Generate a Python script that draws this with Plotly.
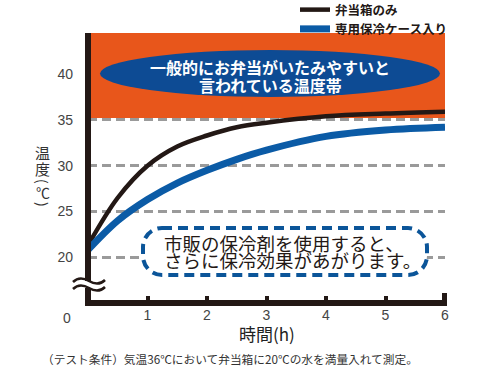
import plotly.graph_objects as go

# ---- data ----
hours = [0, 0.5, 1, 1.5, 2, 2.5, 3, 4, 5, 6]
bento_only = [21.3, 26.5, 30.0, 32.1, 33.3, 34.2, 34.7, 35.4, 35.7, 35.9]
with_case = [20.8, 24.0, 26.3, 28.1, 29.5, 30.7, 31.7, 33.2, 33.9, 34.2]
series_names = ["弁当箱のみ", "専用保冷ケース入り"]
y_ticks = [20, 25, 30, 35, 40]
x_ticks = [1, 2, 3, 4, 5, 6]
danger_low = 35.2
y_range = [15, 44.5]
x_range = [0, 6]

W, H = 490, 368
L, R, T, B = 88, 45, 33, 65
PW, PH = W - L - R, H - T - B
BOT = H - B

def px_x(px):
    return (px - L) / PW

def px_y(py):
    return (BOT - py) / PH

JP = "Noto Sans CJK JP"
NUM = "Liberation Sans, Arial"
BLACK = "#231815"
BLUE = "#0B5BA6"
NAVY = "#0D4B94"
ORANGE = "#E8561B"

fig = go.Figure()
fig.add_trace(go.Scatter(x=hours, y=bento_only, mode="lines", name=series_names[0],
                         line=dict(color=BLACK, width=4.5, shape="spline", smoothing=1)))
fig.add_trace(go.Scatter(x=hours, y=with_case, mode="lines", name=series_names[1],
                         line=dict(color=BLUE, width=7, shape="spline", smoothing=1)))

shapes = []
# danger band
shapes.append(dict(type="rect", xref="x", yref="y", x0=x_range[0], x1=x_range[1],
                   y0=danger_low, y1=y_range[1], fillcolor=ORANGE, line=dict(width=0),
                   layer="between"))
# ellipse
shapes.append(dict(type="circle", xref="paper", yref="paper",
                   x0=px_x(100), x1=px_x(440), y0=px_y(97), y1=px_y(50),
                   fillcolor=NAVY, line=dict(width=0), layer="above"))

def P(x, y):
    return f"{px_x(x):.5f},{px_y(y):.5f}"

# rounded dashed box
def rrect(x0, y0, x1, y1, r):
    k = 0.55 * r
    d = f"M {P(x0 + r, y0)} L {P(x1 - r, y0)} "
    d += f"C {P(x1 - r + k, y0)} {P(x1, y0 + r - k)} {P(x1, y0 + r)} "
    d += f"L {P(x1, y1 - r)} "
    d += f"C {P(x1, y1 - r + k)} {P(x1 - r + k, y1)} {P(x1 - r, y1)} "
    d += f"L {P(x0 + r, y1)} "
    d += f"C {P(x0 + r - k, y1)} {P(x0, y1 - r + k)} {P(x0, y1 - r)} "
    d += f"L {P(x0, y0 + r)} "
    d += f"C {P(x0, y0 + r - k)} {P(x0 + r - k, y0)} {P(x0 + r, y0)} Z"
    return d

shapes.append(dict(type="path", xref="paper", yref="paper", path=rrect(143, 228, 427, 275, 19),
                   fillcolor="white", line=dict(color="#0B5599", width=4, dash="10px,6px"),
                   layer="above"))

# axis lines
shapes.append(dict(type="line", xref="paper", yref="paper", x0=px_x(88), x1=px_x(88),
                   y0=px_y(33), y1=px_y(306), line=dict(color=BLACK, width=6), layer="above"))
shapes.append(dict(type="line", xref="paper", yref="paper", x0=px_x(85), x1=px_x(447),
                   y0=px_y(303), y1=px_y(303), line=dict(color=BLACK, width=6), layer="above"))
# end cap at x = 6
shapes.append(dict(type="rect", xref="paper", yref="paper", x0=px_x(442), x1=px_x(447),
                   y0=px_y(303), y1=px_y(293), fillcolor=BLACK, line=dict(width=0), layer="above"))

# axis break mark
def wave(y):
    return (f"M {P(73, y + 1)} C {P(78, y - 4)} {P(84, y - 3)} {P(89, y)} "
            f"C {P(94, y + 3)} {P(100, y + 4)} {P(105, y - 1)}")

fill_path = f"M {P(80, 281)} L {P(97, 281)} L {P(97, 288)} L {P(80, 288)} Z"
shapes.append(dict(type="path", xref="paper", yref="paper", path=fill_path,
                   fillcolor="white", line=dict(width=0), layer="above"))
shapes.append(dict(type="path", xref="paper", yref="paper", path=wave(281),
                   line=dict(color=BLACK, width=2.5), layer="above"))
shapes.append(dict(type="path", xref="paper", yref="paper", path=wave(288),
                   line=dict(color=BLACK, width=2.5), layer="above"))

ann = []
def A(text, x, y, size, color="#333", family=JP, xanchor="center", angle=0):
    ann.append(dict(text=text, xref="paper", yref="paper", x=px_x(x), y=px_y(y),
                    xanchor=xanchor, yanchor="middle", showarrow=False, textangle=angle,
                    font=dict(family=family, size=size, color=color)))

A("<b>一般的にお弁当がいたみやすいと</b>", 270, 67, 16, "white")
A("<b>言われている温度帯</b>", 270, 85, 16, "white")
A("市販の保冷剤を使用すると、", 162, 243, 18.5, BLACK, xanchor="left")
A("さらに保冷効果があがります。", 162, 260, 18.5, BLACK, xanchor="left")
A("温", 42, 152, 15, "#333")
A("度", 42, 168, 15, "#333")
A("(", 43, 181, 14, "#333", angle=90)
A("℃", 43, 192, 14, "#333")
A(")", 43, 204, 14, "#333", angle=90)
A("時間(h)", 267, 333, 17, "#222")
A("0", 67, 318, 14, "#444", family=NUM)
A("（テスト条件）気温36℃において弁当箱に20℃の水を満量入れて測定。", 230, 358, 11.7, "#333")

fig.update_layout(
    width=W, height=H,
    margin=dict(l=L, r=R, t=T, b=B, autoexpand=False),
    paper_bgcolor="white", plot_bgcolor="white",
    shapes=shapes, annotations=ann,
    showlegend=True,
    legend=dict(x=px_x(295), y=px_y(-5), xanchor="left", yanchor="top",
                font=dict(family=JP, size=12.5, color=BLACK, weight="bold"),
                bgcolor="rgba(0,0,0,0)", borderwidth=0, tracegroupgap=0,
                itemwidth=30),
    xaxis=dict(range=x_range, tickvals=x_ticks, ticktext=[str(v) for v in x_ticks],
               showgrid=False, zeroline=False, showline=False,
               ticks="inside", ticklen=7, tickwidth=4, tickcolor=BLACK,
               tickfont=dict(family=NUM, size=14, color="#444"), ticklabelstandoff=2,
               fixedrange=True),
    yaxis=dict(range=y_range, tickvals=y_ticks, ticktext=[str(v) for v in y_ticks],
               showgrid=True, gridcolor="#9A9A9A", gridwidth=3, griddash="9px,5px",
               zeroline=False, showline=False, ticks="",
               tickfont=dict(family=NUM, size=14, color="#444"), ticklabelstandoff=14,
               fixedrange=True),
)

fig.write_html("out.html")
